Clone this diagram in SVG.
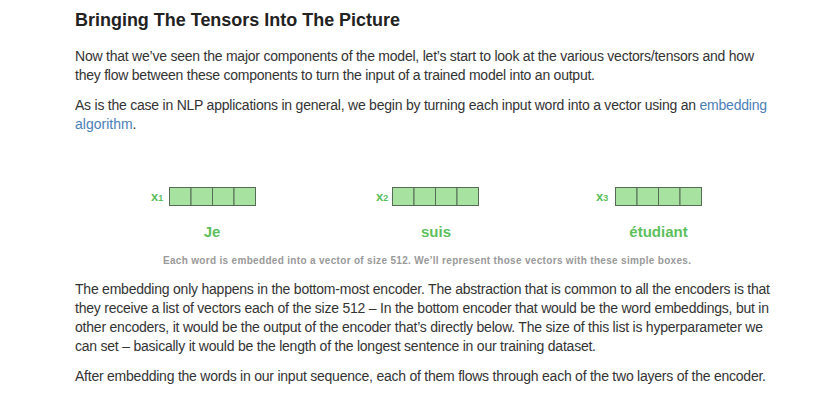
<svg xmlns="http://www.w3.org/2000/svg" width="826" height="402" viewBox="0 0 826 402">
<style>
.h{font-family:"Liberation Sans",Arial,sans-serif;font-size:18px;font-weight:bold;fill:#222}
.p{font-family:"Liberation Sans",Arial,sans-serif;font-size:14px;fill:#333}
.a{fill:#4a80b8}
.cap{font-family:"Liberation Sans",Arial,sans-serif;font-size:10px;font-weight:bold;fill:#999}
.w{font-family:"Liberation Sans",Arial,sans-serif;font-size:15px;font-weight:bold;fill:#5cbf5c}
.x{font-family:"Liberation Sans",Arial,sans-serif;font-size:13px;font-weight:bold;fill:#5cbf5c}
.xs{font-size:9px}
.cell{fill:#a8e2a0;stroke:#556b55;stroke-width:1}
</style>
<rect width="826" height="402" fill="#fff"/>
<text class="h" x="75" y="26" textLength="325" lengthAdjust="spacingAndGlyphs">Bringing The Tensors Into The Picture</text>
<text class="p" x="75" y="60.5" textLength="679">Now that we’ve seen the major components of the model, let’s start to look at the various vectors/tensors and how</text>
<text class="p" x="75" y="80" textLength="520">they flow between these components to turn the input of a trained model into an output.</text>
<text class="p" x="75" y="109.5" textLength="692">As is the case in NLP applications in general, we begin by turning each input word into a vector using an <tspan class="a">embedding</tspan></text>
<text class="p" x="75" y="129"><tspan class="a">algorithm</tspan>.</text>

<g id="vec1">
<text class="x" x="151" y="201">x<tspan class="xs">1</tspan></text>
<rect class="cell" x="169.5" y="187.5" width="21.5" height="18"/>
<rect class="cell" x="191" y="187.5" width="21.5" height="18"/>
<rect class="cell" x="212.5" y="187.5" width="21.5" height="18"/>
<rect class="cell" x="234" y="187.5" width="21.5" height="18"/>
<text class="w" x="212" y="237" text-anchor="middle">Je</text>
</g>
<g id="vec2">
<text class="x" x="376" y="201">x<tspan class="xs">2</tspan></text>
<rect class="cell" x="392.5" y="187.5" width="21.5" height="18"/>
<rect class="cell" x="414" y="187.5" width="21.5" height="18"/>
<rect class="cell" x="435.5" y="187.5" width="21.5" height="18"/>
<rect class="cell" x="457" y="187.5" width="21.5" height="18"/>
<text class="w" x="436" y="237" text-anchor="middle">suis</text>
</g>
<g id="vec3">
<text class="x" x="596" y="201">x<tspan class="xs">3</tspan></text>
<rect class="cell" x="615.5" y="187.5" width="21.5" height="18"/>
<rect class="cell" x="637" y="187.5" width="21.5" height="18"/>
<rect class="cell" x="658.5" y="187.5" width="21.5" height="18"/>
<rect class="cell" x="680" y="187.5" width="21.5" height="18"/>
<text class="w" x="658.5" y="237" text-anchor="middle">étudiant</text>
</g>
<g id="connectors"/>
<text class="cap" x="427" y="264" text-anchor="middle" textLength="528">Each word is embedded into a vector of size 512. We’ll represent those vectors with these simple boxes.</text>

<text class="p" x="75" y="294" textLength="695">The embedding only happens in the bottom-most encoder. The abstraction that is common to all the encoders is that</text>
<text class="p" x="75" y="313" textLength="694">they receive a list of vectors each of the size 512 – In the bottom encoder that would be the word embeddings, but in</text>
<text class="p" x="75" y="332" textLength="688">other encoders, it would be the output of the encoder that’s directly below. The size of this list is hyperparameter we</text>
<text class="p" x="75" y="351" textLength="521">can set – basically it would be the length of the longest sentence in our training dataset.</text>
<text class="p" x="75" y="381" textLength="691">After embedding the words in our input sequence, each of them flows through each of the two layers of the encoder.</text>
</svg>
